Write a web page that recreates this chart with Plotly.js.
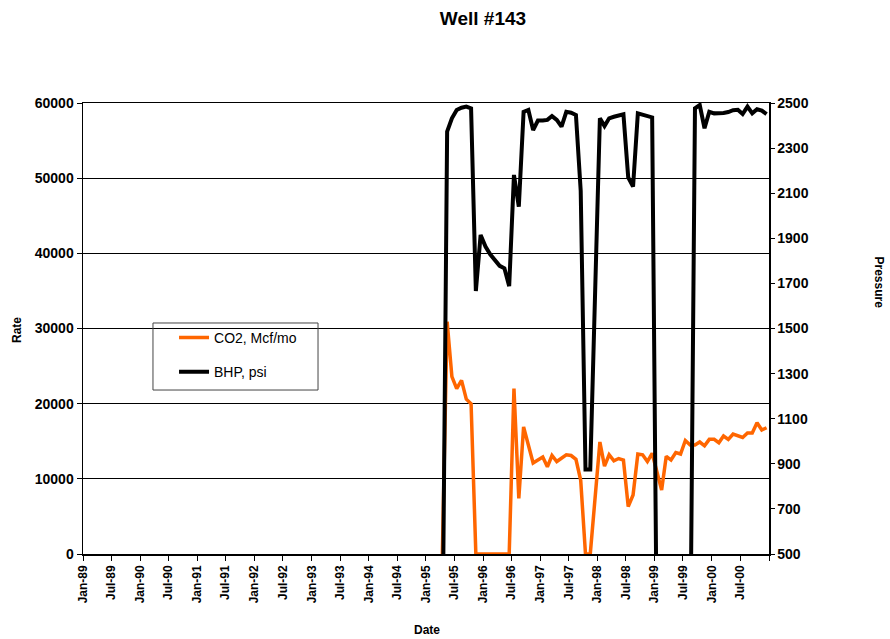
<!DOCTYPE html>
<html>
<head>
<meta charset="utf-8">
<script src="https://cdn.plot.ly/plotly-3.0.1.min.js"></script>
<style>
  html, body { margin: 0; padding: 0; background: #fff; }
  #chart { width: 890px; height: 639px; }
</style>
</head>
<body>
<div id="chart"></div>
<script>
// ---- data (monthly) ----
const months = [
  '1995-04','1995-05','1995-06','1995-07','1995-08','1995-09','1995-10','1995-11','1995-12',
  '1996-01','1996-02','1996-03','1996-04','1996-05','1996-06','1996-07','1996-08','1996-09','1996-10','1996-11','1996-12',
  '1997-01','1997-02','1997-03','1997-04','1997-05','1997-06','1997-07','1997-08','1997-09','1997-10','1997-11','1997-12',
  '1998-01','1998-02','1998-03','1998-04','1998-05','1998-06','1998-07','1998-08','1998-09','1998-10','1998-11','1998-12',
  '1999-01','1999-02','1999-03','1999-04','1999-05','1999-06','1999-07','1999-08','1999-09','1999-10','1999-11','1999-12',
  '2000-01','2000-02','2000-03','2000-04','2000-05','2000-06','2000-07','2000-08','2000-09','2000-10','2000-11','2000-12'
];

const co2Rate = [
  0, 30900, 23600, 22000, 23100, 20600, 20000, 0, 0,
  0, 0, 0, 0, 0, 0, 22000, 7400, 16900, 14300, 12100, 12500,
  12900, 11600, 13100, 12300, 12800, 13200, 13100, 12600, 9800, 0, 0, 7500,
  14900, 11700, 13200, 12400, 12700, 12500, 6300, 7850, 13300, 13200, 12300, 13400,
  11000, 8500, 13000, 12500, 13500, 13300, 15100, 14500, 14500, 14900, 14400, 15250,
  15250, 14800, 15700, 15250, 15950, 15700, 15500, 16100, 16100, 17450, 16500, 16800
];

const bhpPsi = [
  0, 2373, 2432, 2469, 2479, 2484, 2476, 1666, 1915,
  1863, 1829, 1800, 1778, 1767, 1688, 2181, 2040, 2461, 2469, 2380, 2422,
  2422, 2425, 2442, 2425, 2395, 2461, 2457, 2447, 2110, 875, 875, 1650,
  2432, 2398, 2432, 2439, 2444, 2450, 2170, 2129, 2454, 2447, 2439, 2436,
  0, 0, 0, 0, 0, 0, 0, 0, 2476, 2491, 2388, 2461,
  2454, 2454, 2456, 2460, 2468, 2470, 2451, 2484, 2454, 2472, 2466, 2451
];

const xTickVals = [
  '1989-01-01','1989-07-01','1990-01-01','1990-07-01','1991-01-01','1991-07-01',
  '1992-01-01','1992-07-01','1993-01-01','1993-07-01','1994-01-01','1994-07-01',
  '1995-01-01','1995-07-01','1996-01-01','1996-07-01','1997-01-01','1997-07-01',
  '1998-01-01','1998-07-01','1999-01-01','1999-07-01','2000-01-01','2000-07-01','2001-01-01'
];
const xTickText = [
  'Jan-89','Jul-89','Jan-90','Jul-90','Jan-91','Jul-91',
  'Jan-92','Jul-92','Jan-93','Jul-93','Jan-94','Jul-94',
  'Jan-95','Jul-95','Jan-96','Jul-96','Jan-97','Jul-97',
  'Jan-98','Jul-98','Jan-99','Jul-99','Jan-00','Jul-00',''
];

const FONT = 'Liberation Sans, Arial, sans-serif';

const traces = [
  {
    x: months, y: co2Rate, name: 'CO2, Mcf/mo', type: 'scatter', mode: 'lines',
    xperiod: 'M1', xperiodalignment: 'middle',
    line: { color: '#FF6600', width: 3.5 },
    yaxis: 'y', legendgroup: 'a'
  },
  {
    x: months, y: bhpPsi, name: 'BHP, psi', type: 'scatter', mode: 'lines',
    xperiod: 'M1', xperiodalignment: 'middle',
    line: { color: '#000000', width: 4 },
    yaxis: 'y2', legendgroup: 'b'
  }
];

const layout = {
  width: 890, height: 639,
  margin: { l: 83, r: 121, t: 103, b: 85 },
  paper_bgcolor: '#fff', plot_bgcolor: '#fff',
  font: { family: FONT, color: '#000' },
  title: {
    text: 'Well #143',
    font: { family: FONT, size: 19, weight: 'bold', color: '#000' },
    x: 0.5427, xanchor: 'center', y: 0.972, yanchor: 'middle'
  },
  showlegend: true,
  legend: {
    x: 0.1327, xanchor: 'left', y: 0.5147, yanchor: 'top',
    bgcolor: 'rgba(0,0,0,0)', borderwidth: 0,
    font: { family: FONT, size: 14, color: '#000' },
    traceorder: 'grouped', tracegroupgap: 13
  },
  xaxis: {
    type: 'date',
    range: ['1989-01-01', '2001-01-01'],
    tickmode: 'array', tickvals: xTickVals, ticktext: xTickText,
    tickangle: -90,
    tickfont: { family: FONT, size: 12, weight: 'bold', color: '#000' },
    ticks: 'outside', ticklen: 5, tickcolor: '#000', tickwidth: 1,
    showline: true, linecolor: '#000', linewidth: 1.5, mirror: true,
    showgrid: false, zeroline: false
  },
  yaxis: {
    range: [0, 60000], dtick: 10000, tick0: 0,
    tickfont: { family: FONT, size: 14, weight: 'bold', color: '#000' },
    ticks: 'outside', ticklen: 5, tickcolor: '#000', tickwidth: 1,
    showline: true, linecolor: '#000', linewidth: 1.5,
    showgrid: true, gridcolor: '#000', gridwidth: 1,
    zeroline: false, tickformat: 'd'
  },
  yaxis2: {
    overlaying: 'y', side: 'right',
    range: [500, 2500], dtick: 200, tick0: 500,
    tickfont: { family: FONT, size: 14, weight: 'bold', color: '#000' },
    ticks: 'outside', ticklen: 4, tickcolor: '#000', tickwidth: 1,
    showline: true, linecolor: '#000', linewidth: 1.5,
    showgrid: false, zeroline: false, tickformat: 'd'
  },
  shapes: [
    { type: 'rect', xref: 'paper', yref: 'paper',
      x0: 0.102, x1: 0.3426, y0: 0.3636, y1: 0.5122,
      line: { color: '#444', width: 1 }, fillcolor: 'rgba(0,0,0,0)', layer: 'above' }
  ],
  annotations: [
    { text: 'Rate', xref: 'paper', yref: 'paper', x: -0.0962, y: 0.4967,
      textangle: -90, showarrow: false, xanchor: 'center', yanchor: 'middle',
      font: { family: FONT, size: 12, weight: 'bold', color: '#000' } },
    { text: 'Pressure', xref: 'paper', yref: 'paper', x: 1.1589, y: 0.602,
      textangle: 90, showarrow: false, xanchor: 'center', yanchor: 'middle',
      font: { family: FONT, size: 12, weight: 'bold', color: '#000' } },
    { text: 'Date', xref: 'paper', yref: 'paper', x: 0.5012, y: -0.1685,
      showarrow: false, xanchor: 'center', yanchor: 'middle',
      font: { family: FONT, size: 12, weight: 'bold', color: '#000' } }
  ]
};

Plotly.newPlot('chart', traces, layout, { displayModeBar: false, staticPlot: true });
</script>
</body>
</html>
